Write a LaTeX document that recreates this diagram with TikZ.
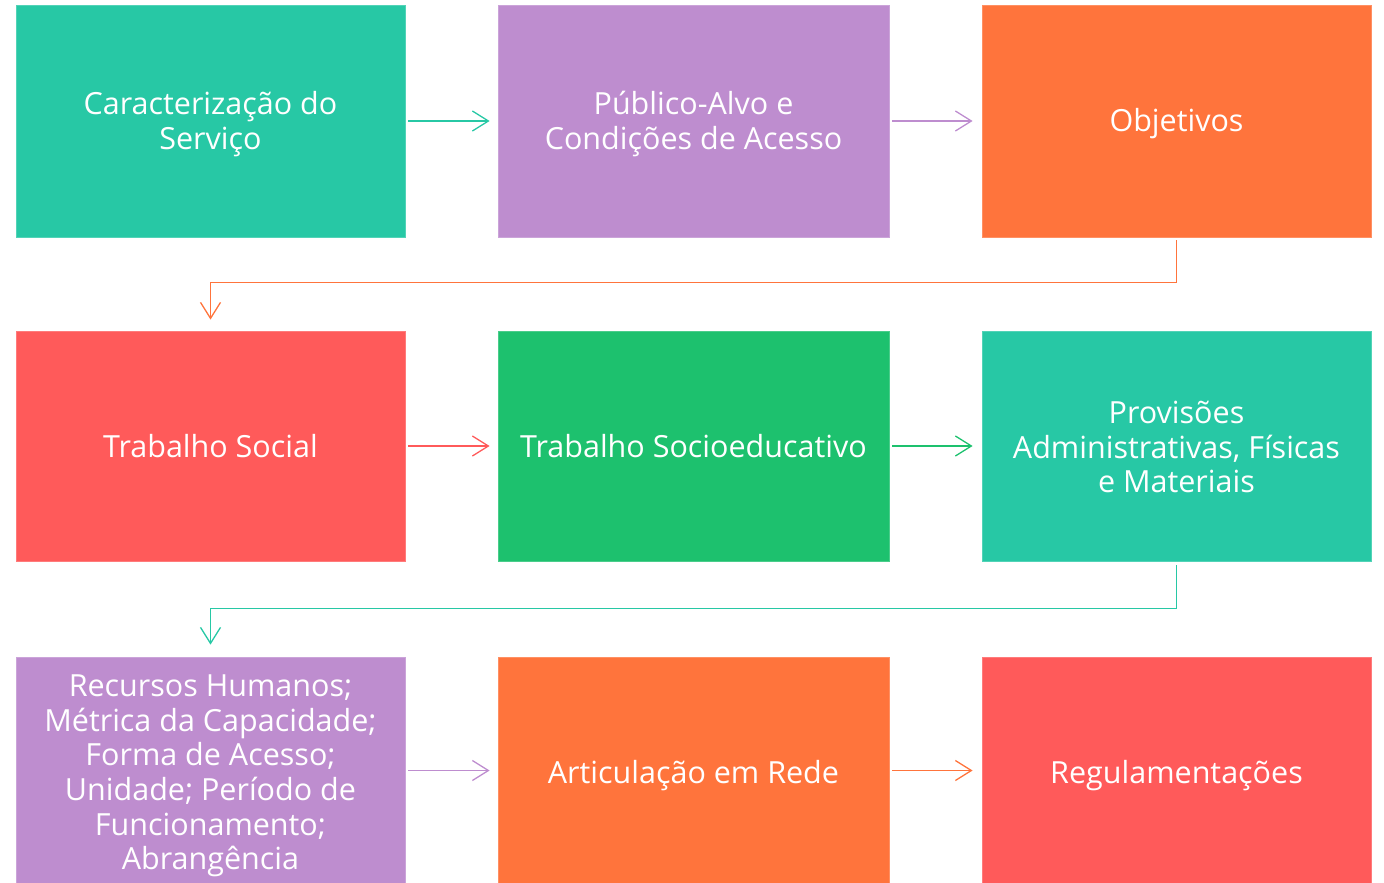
\documentclass[tikz,border=0pt]{standalone}
\usepackage{fontspec}
\setmainfont{Open Sans}
\usetikzlibrary{arrows.meta}
\definecolor{cteal}{HTML}{27C8A5}
\definecolor{cpurple}{HTML}{BE8DCF}
\definecolor{corange}{HTML}{FF743C}
\definecolor{cred}{HTML}{FF5A5A}
\definecolor{cgreen}{HTML}{1DC16E}
\tikzset{
  box/.style={fill=#1, draw=#1!80!white, line width=0.8pt, inner sep=0pt},
  txt/.style={text=white, align=center, font=\fontsize{30.5}{34.6}\selectfont, inner sep=0pt},
  conn/.style={draw=#1, line width=1.3pt, -{Straight Barb[length=16pt,width=20pt,line width=1.3pt]}},
}
\begin{document}
\begin{tikzpicture}[x=1pt,y=-1pt]
\useasboundingbox (0,0) rectangle (1384,883);
% row 1
\node[box=cteal, minimum width=389pt, minimum height=232pt] (car) at (210.5,121) {};
\node[box=cpurple, minimum width=391pt, minimum height=232pt] (pub) at (693.5,121) {};
\node[box=corange, minimum width=389pt, minimum height=232pt] (obj) at (1176.5,121) {};
\node[txt] (car-t) at ([yshift=-3pt]car.center) {Caracterização do\\Serviço};
\node[txt] (pub-t) at ([yshift=-3pt]pub.center) {Público-Alvo e\\Condições de Acesso};
\node[txt] (obj-t) at ([yshift=-3pt]obj.center) {Objetivos};
% row 2
\node[box=cred, minimum width=389pt, minimum height=230pt] (tso) at (210.5,446) {};
\node[box=cgreen, minimum width=391pt, minimum height=230pt] (tse) at (693.5,446) {};
\node[box=cteal, minimum width=389pt, minimum height=230pt] (pro) at (1176.5,446) {};
\node[txt] (tso-t) at (tso.center) {Trabalho Social};
\node[txt] (tse-t) at (tse.center) {Trabalho Socioeducativo};
\node[txt] (pro-t) at ([yshift=-1pt]pro.center) {Provisões\\Administrativas, Físicas\\e Materiais};
% row 3
\node[box=cpurple, minimum width=389pt, minimum height=227pt] (rec) at (210.5,770.5) {};
\node[box=corange, minimum width=391pt, minimum height=227pt] (art) at (693.5,770.5) {};
\node[box=cred, minimum width=389pt, minimum height=227pt] (reg) at (1176.5,770.5) {};
\node[txt] (rec-t) at ([yshift=-5.5pt]rec.center) {Recursos Humanos;\\Métrica da Capacidade;\\Forma de Acesso;\\Unidade; Período de\\Funcionamento;\\Abrangência};
\node[txt] (art-t) at ([yshift=-5pt]art.center) {Articulação em Rede};
\node[txt] (reg-t) at ([yshift=-5pt]reg.center) {Regulamentações};
% connectors
\draw[conn=cteal, shorten <=3pt, shorten >=8pt] (car.east) -- (pub.west);
\draw[conn=cpurple, shorten <=3pt, shorten >=9pt] (pub.east) -- (obj.west);
\draw[conn=corange, shorten <=3pt, shorten >=11pt] (obj.south) -- ++(0,45) -| (tso.north);
\draw[conn=cred, shorten <=3pt, shorten >=8pt] (tso.east) -- (tse.west);
\draw[conn=cgreen, shorten <=3pt, shorten >=9pt] (tse.east) -- (pro.west);
\draw[conn=cteal, shorten <=4pt, shorten >=12pt] (pro.south) -- ++(0,47) -| (rec.north);
\draw[conn=cpurple, shorten <=3pt, shorten >=8pt] (rec.east) -- (art.west);
\draw[conn=corange, shorten <=3pt, shorten >=9pt] (art.east) -- (reg.west);
\end{tikzpicture}
\end{document}
